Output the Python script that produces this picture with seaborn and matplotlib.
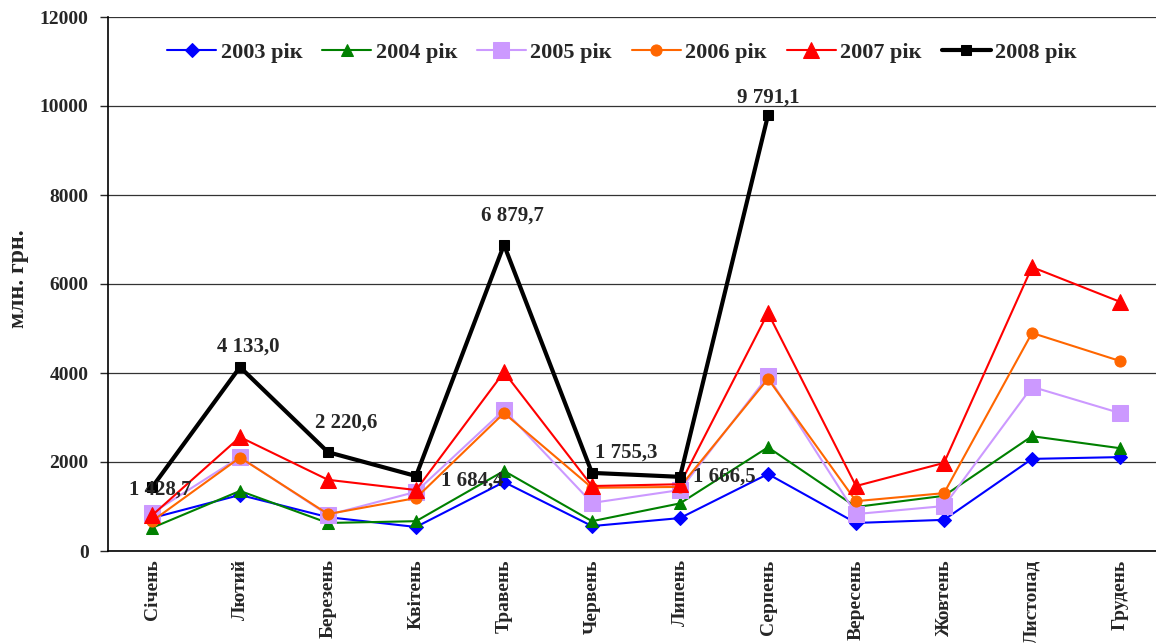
import numpy as np
import pandas as pd
import matplotlib
matplotlib.use("Agg")
import matplotlib.pyplot as plt
import seaborn as sns

# month names and series values (млн. грн.)
months = ["Січень", "Лютий", "Березень", "Квітень", "Травень", "Червень",
          "Липень", "Серпень", "Вересень", "Жовтень", "Листопад", "Грудень"]
y2003 = [740, 1260, 760, 540, 1550, 560, 740, 1730, 630, 700, 2070, 2110]
y2004 = [520, 1350, 630, 670, 1800, 670, 1070, 2330, 990, 1240, 2580, 2310]
y2005 = [850, 2110, 810, 1330, 3170, 1080, 1370, 3930, 830, 1010, 3690, 3100]
y2006 = [670, 2100, 830, 1190, 3100, 1420, 1440, 3870, 1120, 1300, 4900, 4270]
y2007 = [800, 2560, 1600, 1370, 4020, 1460, 1500, 5350, 1460, 1980, 6380, 5600]
y2008 = [1428.7, 4133.0, 2220.6, 1684.4, 6879.7, 1755.3, 1666.5, 9791.1,
         np.nan, np.nan, np.nan, np.nan]
labels_2008 = ["1 428,7", "4 133,0", "2 220,6", "1 684,4", "6 879,7",
               "1 755,3", "1 666,5", "9 791,1"]

series = [
    ("2003 рік", y2003, "#0000FF", "D", 7, 1.5),
    ("2004 рік", y2004, "#008000", "^", 9, 1.5),
    ("2005 рік", y2005, "#CC99FF", "s", 12, 1.5),
    ("2006 рік", y2006, "#FF6600", "o", 8, 1.5),
    ("2007 рік", y2007, "#FF0000", "^", 12, 1.5),
    ("2008 рік", y2008, "#000000", "s", 7, 3.0),
]

sns.set_style("white")
plt.rcParams["font.family"] = ["Liberation Serif", "DejaVu Serif"]

fig = plt.figure(figsize=(11.56, 6.43), dpi=100)
ax = fig.add_axes([108 / 1156, 1 - 551 / 643, 1056 / 1156, 534 / 643])

x = np.arange(len(months))
for name, vals, col, mk, ms, lw in series:
    df = pd.DataFrame({"x": x, "v": vals}).dropna()
    sns.lineplot(data=df, x="x", y="v", ax=ax, color=col, marker=mk,
                 markersize=ms, markeredgecolor=col, linewidth=lw,
                 label=name, zorder=3 if name != "2008 рік" else 4)

# data labels for 2008
offsets = [(8, -2), (8, 20), (18, 30), (56, -5), (8, 29), (34, 20), (44, 0), (0, 18)]
for i, (lab, off) in enumerate(zip(labels_2008, offsets)):
    ax.annotate(lab, (x[i], y2008[i]), xytext=off, textcoords="offset pixels",
                ha="center", va="center", fontsize=15, fontweight="bold", zorder=5)

ax.set_xlim(-0.5, 11.5)
ax.set_ylim(0, 12000)
ax.set_yticks(np.arange(0, 12001, 2000))
ax.set_yticklabels([str(v) for v in range(0, 12001, 2000)],
                   fontweight="bold", fontsize=14)
ax.yaxis.grid(True, color="#333333", linewidth=0.9)
ax.set_axisbelow(True)

ax.set_xticks(x)
ax.set_xticklabels(months, rotation=90, fontsize=14, fontweight="bold")
ax.set_xticks(np.arange(-0.5, 12, 1), minor=True)
ax.tick_params(axis="x", which="major", length=0, pad=6)
ax.tick_params(axis="x", which="minor", length=6, width=1, direction="out")
ax.tick_params(axis="y", length=6, width=1, direction="out", left=True, pad=8)
ax.set_xlabel("")
ax.set_ylabel("млн. грн.", fontsize=17, fontweight="bold", va="center")
ax.yaxis.set_label_coords(-0.085, 0.51)

for s in ["top", "right"]:
    ax.spines[s].set_visible(False)
for s in ["left", "bottom"]:
    ax.spines[s].set_color("black")
    ax.spines[s].set_linewidth(1.2)

ax.legend(loc="center", bbox_to_anchor=((622 - 108) / 1056, 1 - 36 / 534), ncol=6,
          frameon=False, prop={"weight": "bold", "size": 16},
          handlelength=2.2, handletextpad=0.2, columnspacing=0.9)

fig.savefig("out.png", dpi=100)
